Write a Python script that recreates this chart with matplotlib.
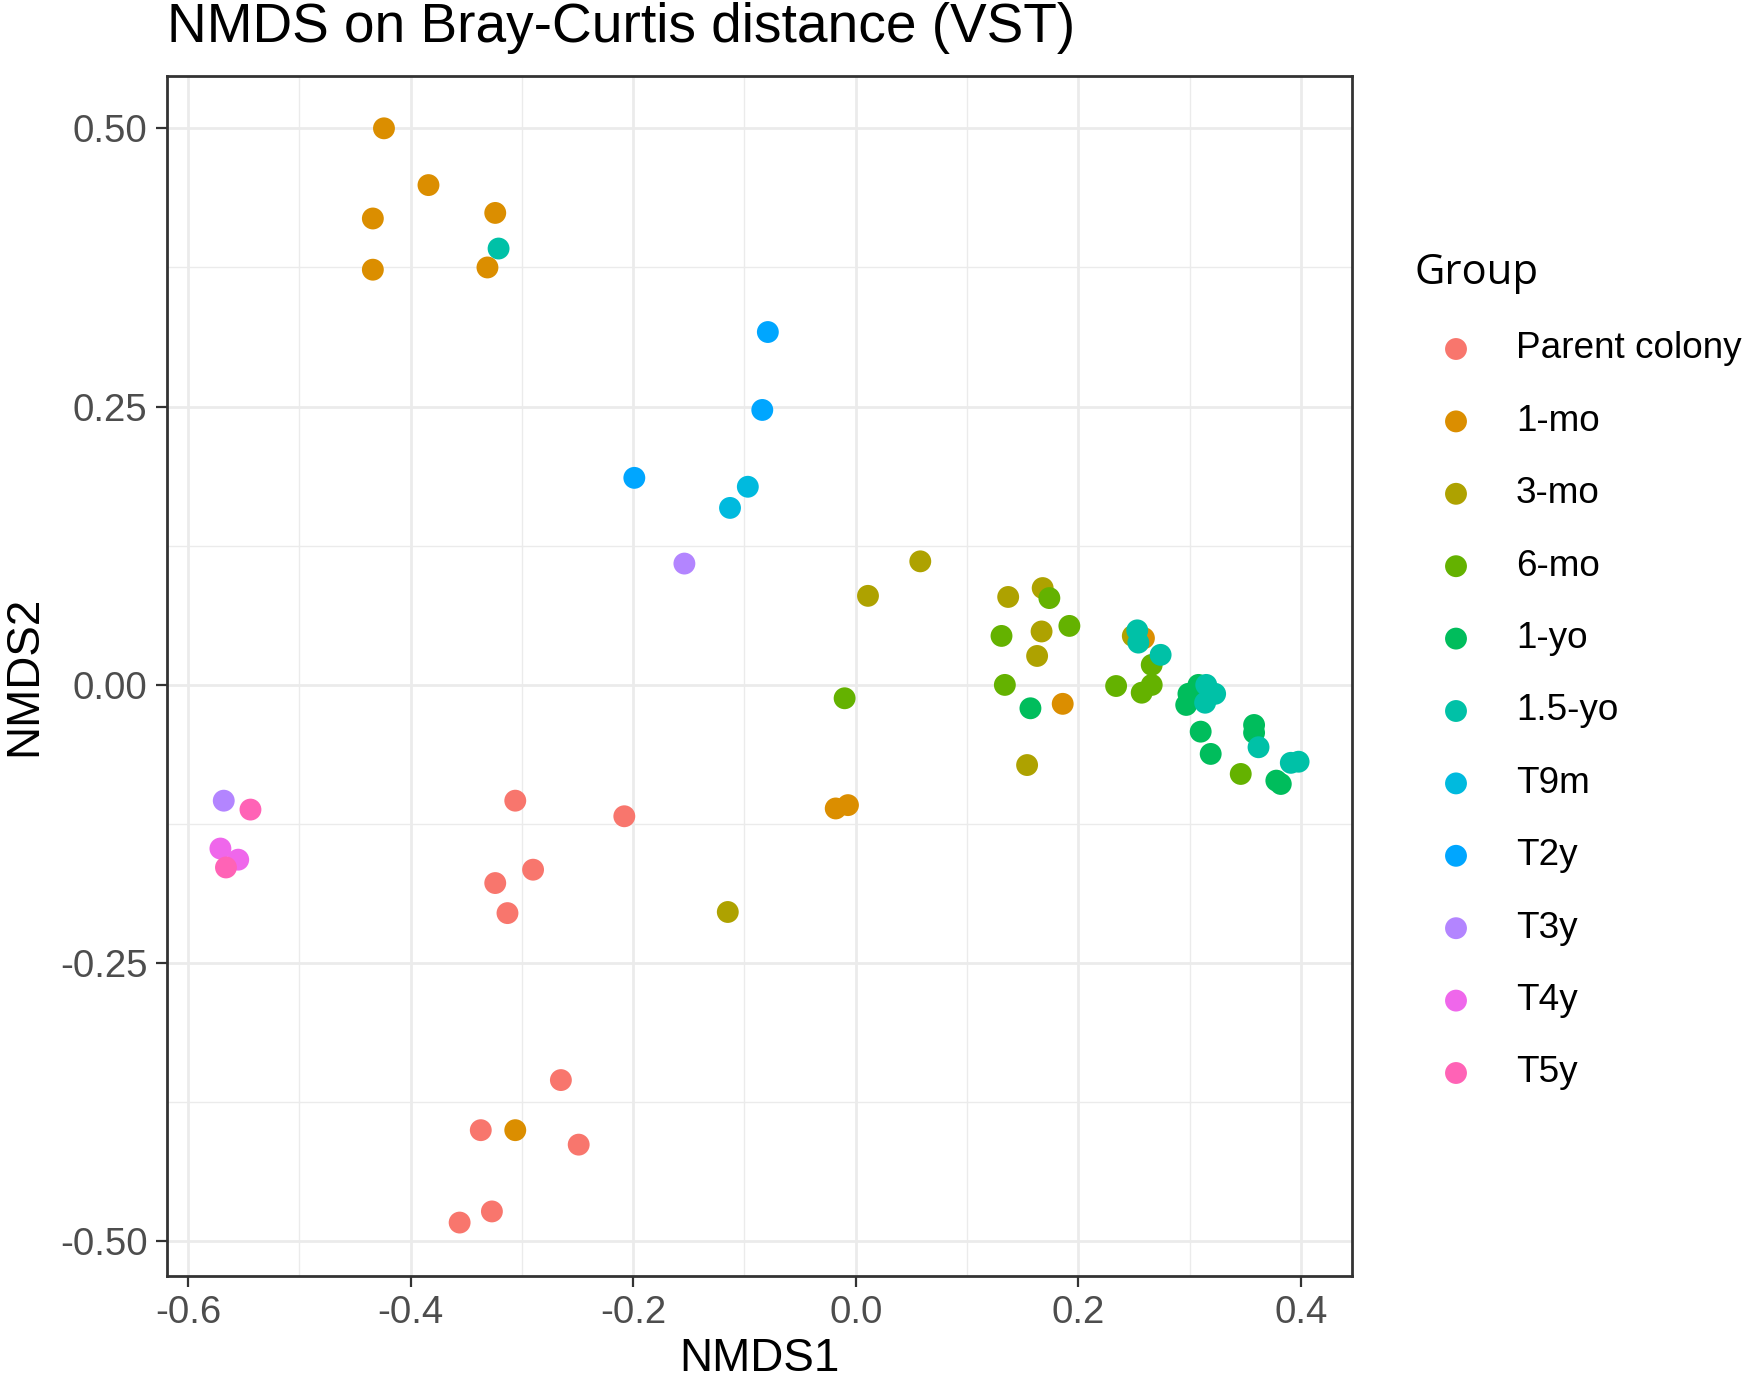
import matplotlib
matplotlib.use("Agg")
import matplotlib.pyplot as plt
from matplotlib.ticker import MultipleLocator

groups = ["Parent colony", "1-mo", "3-mo", "6-mo", "1-yo", "1.5-yo", "T9m", "T2y", "T3y", "T4y", "T5y"]
colors = ["#F8766D", "#DB8E00", "#AEA200", "#64B200", "#00BD5C", "#00C1A7",
          "#00BADE", "#00A6FF", "#B385FF", "#EF67EB", "#FF63B6"]

parent_x = [-0.356, -0.327, -0.337, -0.265, -0.249, -0.306, -0.208, -0.324, -0.290, -0.313]
parent_y = [-0.483, -0.473, -0.400, -0.355, -0.413, -0.104, -0.118, -0.178, -0.166, -0.205]

mo1_x = [-0.424, -0.384, -0.434, -0.324, -0.434, -0.331, -0.306, -0.018, -0.007, 0.186, 0.259]
mo1_y = [0.500, 0.449, 0.419, 0.424, 0.373, 0.375, -0.400, -0.111, -0.108, -0.017, 0.042]

mo3_x = [0.058, 0.011, 0.137, 0.168, 0.167, 0.163, 0.154, -0.115, 0.249]
mo3_y = [0.111, 0.080, 0.079, 0.087, 0.048, 0.026, -0.072, -0.204, 0.044]

mo6_x = [0.174, 0.192, 0.131, 0.134, -0.010, 0.234, 0.257, 0.266, 0.266, 0.346]
mo6_y = [0.078, 0.053, 0.044, 0.000, -0.012, -0.001, -0.007, 0.000, 0.018, -0.080]

yo1_x = [0.157, 0.297, 0.299, 0.308, 0.310, 0.319, 0.358, 0.358, 0.378, 0.382]
yo1_y = [-0.021, -0.018, -0.008, 0.000, -0.042, -0.062, -0.036, -0.043, -0.086, -0.089]

yo15_x = [-0.321, 0.274, 0.315, 0.323, 0.314, 0.362, 0.391, 0.398, 0.253, 0.254]
yo15_y = [0.392, 0.027, 0.000, -0.008, -0.016, -0.056, -0.070, -0.069, 0.049, 0.038]

t9m_x = [-0.113, -0.097]
t9m_y = [0.159, 0.178]

t2y_x = [-0.079, -0.084, -0.199]
t2y_y = [0.317, 0.247, 0.186]

t3y_x = [-0.154, -0.568]
t3y_y = [0.109, -0.104]

t4y_x = [-0.571, -0.555]
t4y_y = [-0.147, -0.157]

t5y_x = [-0.544, -0.566]
t5y_y = [-0.112, -0.164]

xs = [parent_x, mo1_x, mo3_x, mo6_x, yo1_x, yo15_x, t9m_x, t2y_x, t3y_x, t4y_x, t5y_x]
ys = [parent_y, mo1_y, mo3_y, mo6_y, yo1_y, yo15_y, t9m_y, t2y_y, t3y_y, t4y_y, t5y_y]

xticks = [-0.6, -0.4, -0.2, 0.0, 0.2, 0.4]
xticklabels = ["-0.6", "-0.4", "-0.2", "0.0", "0.2", "0.4"]
yticks = [-0.50, -0.25, 0.00, 0.25, 0.50]
yticklabels = ["-0.50", "-0.25", "0.00", "0.25", "0.50"]

plt.rcParams['font.family'] = ['Liberation Sans', 'DejaVu Sans']

W, H, DPI = 1744, 1392, 200
fig = plt.figure(figsize=(W / DPI, H / DPI), dpi=DPI)
ax = fig.add_axes([167 / W, 1 - 1276 / H, (1352 - 167) / W, (1276 - 76) / H])

ax.set_xlim(-0.619, 0.446)
ax.set_ylim(-0.531, 0.547)

ax.set_xticks(xticks)
ax.set_xticklabels(xticklabels)
ax.set_yticks(yticks)
ax.set_yticklabels(yticklabels)
ax.xaxis.set_minor_locator(MultipleLocator(0.1))
ax.yaxis.set_minor_locator(MultipleLocator(0.125))
ax.grid(which='major', color='#EBEBEB', linewidth=1.0)
ax.grid(which='minor', color='#EBEBEB', linewidth=0.5)
ax.set_axisbelow(True)
ax.tick_params(which='minor', length=0)
ax.tick_params(which='major', length=4, width=0.8, color='#333333',
               labelsize=13.8, labelcolor='#4D4D4D', pad=3)
for s in ax.spines.values():
    s.set_color('#333333')
    s.set_linewidth(1.0)

for x, y, c in zip(xs, ys, colors):
    ax.scatter(x, y, s=62, color=c, edgecolors='none', zorder=3)

ax.set_xlabel("NMDS1", fontsize=16.5, labelpad=2)
ax.set_ylabel("NMDS2", fontsize=16.5, labelpad=5)
fig.text(167 / W, 1 - 42 / H, "NMDS on Bray-Curtis distance (VST)", fontsize=19.8,
         ha='left', va='baseline')

# legend
fig.text(1414 / W, 1 - 273 / H, "Group", fontsize=15.1, ha='left', va='center',
         family=['Open Sans', 'DejaVu Sans'])
lax = fig.add_axes([1400 / W, 0.0, (W - 1400) / W, 1.0])
lax.set_xlim(1400, W)
lax.set_ylim(H, 0)
lax.axis('off')
for i, (g, c) in enumerate(zip(groups, colors)):
    yy = 349 + i * 72.4
    lax.scatter([1456], [yy], s=62, color=c, edgecolors='none', clip_on=False)
    lax.text(1516, yy, g, fontsize=13.3, ha='left', va='center')

fig.savefig("out.png", dpi=DPI)
